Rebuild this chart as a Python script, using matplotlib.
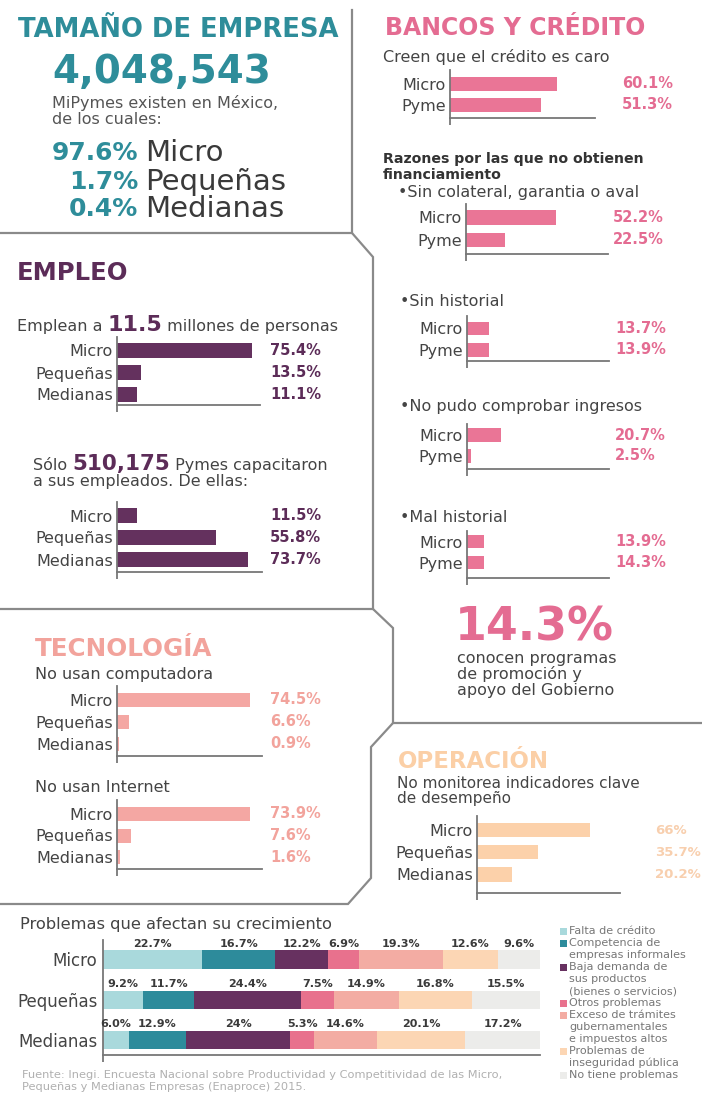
import matplotlib
matplotlib.use('Agg')
import matplotlib.pyplot as plt
from matplotlib.lines import Line2D
from matplotlib.patches import Rectangle
import numpy as np

W, H = 702, 1094
plt.rcParams['font.family'] = ['DejaVu Sans']

# ---------------- data ----------------
tam_total = "4,048,543"
tam_pct = ["97.6%", "1.7%", "0.4%"]
tam_cat = ["Micro", "Pequeñas", "Medianas"]

credito_cats = ["Micro", "Pyme"]
credito_caro = [60.1, 51.3]
sin_colateral = [52.2, 22.5]
sin_historial = [13.7, 13.9]
no_ingresos = [20.7, 2.5]
mal_historial = [13.9, 14.3]
conocen_programas = "14.3%"

size_cats = ["Micro", "Pequeñas", "Medianas"]
empleo_pct = [75.4, 13.5, 11.1]
capacitaron_pct = [11.5, 55.8, 73.7]
no_computadora = [74.5, 6.6, 0.9]
no_internet = [73.9, 7.6, 1.6]
no_monitorea = [66, 35.7, 20.2]

problem_names = ["Falta de crédito",
                 "Competencia de\nempresas informales",
                 "Baja demanda de\nsus productos\n(bienes o servicios)",
                 "Otros problemas",
                 "Exceso de trámites\ngubernamentales\ne impuestos altos",
                 "Problemas de\ninseguridad pública",
                 "No tiene problemas"]
prob_rows = ["Micro", "Pequeñas", "Medianas"]
prob_micro = [22.7, 16.7, 12.2, 6.9, 19.3, 12.6, 9.6]
prob_pequenas = [9.2, 11.7, 24.4, 7.5, 14.9, 16.8, 15.5]
prob_medianas = [6.0, 12.9, 24, 5.3, 14.6, 20.1, 17.2]
prob_colors = ["#a9d9dc", "#2d8b9b", "#673160", "#e8718d",
               "#f3aca3", "#fcd6b4", "#ececea"]

TEAL = "#2e8d9a"
PINK = "#e46c92"
PINK_BAR = "#ea7596"
PURPLE = "#5c2c58"
PURPLE_BAR = "#64315e"
SALMON = "#f2a39c"
SALMON_BAR = "#f4a7a3"
PEACH = "#fbcfa6"
PEACH_BAR = "#fcd1aa"
TXT = "#444444"
LINE = "#8a8a8a"
BODY = 11.5
CAT = 11.5
VAL = 10.5

fig = plt.figure(figsize=(W / 100, H / 100), dpi=100)
fig.patch.set_facecolor("white")
renderer = fig.canvas.get_renderer()


def fx(x):
    return x / W


def fy(y):
    return 1 - y / H


def text(x, y, s, **kw):
    kw.setdefault("va", "center")
    kw.setdefault("ha", "left")
    kw.setdefault("color", TXT)
    return fig.text(fx(x), fy(y), s, **kw)


def rich(x, y, parts):
    cx = x
    for s, kw in parts:
        t = fig.text(fx(cx), fy(y), s, va="baseline", ha="left", **kw)
        cx += t.get_window_extent(renderer=renderer).width


def poly(pts):
    xs = [fx(p[0]) for p in pts]
    ys = [fy(p[1]) for p in pts]
    fig.add_artist(Line2D(xs, ys, transform=fig.transFigure, color=LINE,
                          lw=1.6, solid_joinstyle="miter"))


# ---------------- divider lines ----------------
poly([(352, 10), (352, 233), (0, 233)])
poly([(352, 233), (373, 257), (373, 609), (0, 609)])
poly([(373, 609), (393, 628), (393, 723), (702, 723)])
poly([(393, 723), (371, 747), (371, 878), (348, 904), (0, 904)])


def hbar(top, left, right, axis_y, yc0, spacing, bar_h, xmax, cats, vals,
         color, val_x, val_color, cat_fs=CAT, val_fs=VAL):
    ax = fig.add_axes([fx(left), fy(axis_y), (right - left) / W,
                       (axis_y - top) / H])
    ypos = np.arange(len(vals))
    ax.barh(ypos, vals, height=bar_h / spacing, color=color)
    ax.set_xlim(0, xmax)
    ax.set_ylim((axis_y - yc0) / spacing, (top - yc0) / spacing)
    for s in ["top", "right"]:
        ax.spines[s].set_visible(False)
    for s in ["left", "bottom"]:
        ax.spines[s].set_color("#777777")
        ax.spines[s].set_linewidth(1.3)
    ax.set_xticks([0])
    ax.set_xticklabels([""])
    ax.tick_params(axis="x", length=5, width=1.3, color="#777777",
                   direction="out")
    ax.set_yticks(ypos)
    ax.set_yticklabels(cats, fontsize=cat_fs, color=TXT)
    ax.tick_params(axis="y", length=0, pad=3)
    ax.patch.set_alpha(0)
    xv = (val_x - left) / (right - left) * xmax
    for i, v in enumerate(vals):
        ax.text(xv, i, f"{v}%", ha="left", va="center", fontsize=val_fs,
                fontweight="bold", color=val_color, clip_on=False)
    return ax


# ---------------- TAMAÑO DE EMPRESA ----------------
text(18, 30, "TAMAÑO DE EMPRESA", fontsize=18.6, fontweight="bold", color=TEAL)
text(52, 72, tam_total, fontsize=28, fontweight="bold", color=TEAL)
text(52, 103, "MiPymes existen en México,", fontsize=BODY, color="#555555")
text(52, 120, "de los cuales:", fontsize=BODY, color="#555555")
for p, c, y in zip(tam_pct, tam_cat, [153, 182, 209]):
    text(138, y, p, fontsize=18, fontweight="bold", color=TEAL, ha="right")
    text(145, y, c, fontsize=21, color="#3a3a3a")

# ---------------- BANCOS Y CRÉDITO ----------------
text(385, 28, "BANCOS Y CRÉDITO", fontsize=17, fontweight="bold", color=PINK)
text(383, 57, "Creen que el crédito es caro", fontsize=BODY)
hbar(70, 450, 595, 118, 83.5, 21, 14, 81.4, credito_cats, credito_caro,
     PINK_BAR, 622, PINK)

text(383, 159, "Razones por las que no obtienen", fontsize=10.2,
     fontweight="bold", color="#333333")
text(383, 175, "financiamiento", fontsize=10.2, fontweight="bold",
     color="#333333")
text(398, 193, "•Sin colateral, garantia o aval", fontsize=BODY)
hbar(204, 466, 608, 254, 217.5, 22.5, 14.5, 82.4, credito_cats,
     sin_colateral, PINK_BAR, 613, PINK)

text(400, 302, "•Sin historial", fontsize=BODY)
hbar(316, 467, 609, 361, 328.5, 21.5, 13.5, 88, credito_cats,
     sin_historial, PINK_BAR, 615, PINK)

text(400, 407, "•No pudo comprobar ingresos", fontsize=BODY)
hbar(424, 467, 609, 469, 435, 21, 14, 86.5, credito_cats, no_ingresos,
     PINK_BAR, 615, PINK)

text(400, 517, "•Mal historial", fontsize=BODY)
hbar(531, 467, 609, 578, 541.5, 21, 13.5, 118, credito_cats,
     mal_historial, PINK_BAR, 615, PINK)

text(455, 628, conocen_programas, fontsize=33, fontweight="bold", color=PINK)
text(457, 658, "conocen programas", fontsize=BODY)
text(457, 674, "de promoción y", fontsize=BODY)
text(457, 690, "apoyo del Gobierno", fontsize=BODY)

# ---------------- EMPLEO ----------------
text(17, 273, "EMPLEO", fontsize=17.5, fontweight="bold", color=PURPLE)
rich(17, 331, [("Emplean a ", dict(fontsize=BODY, color=TXT)),
               ("11.5", dict(fontsize=16, fontweight="bold", color=PURPLE)),
               (" millones de personas", dict(fontsize=BODY, color=TXT))])
hbar(337, 117, 260, 405, 350.5, 22, 15, 79.9, size_cats, empleo_pct,
     PURPLE_BAR, 270, PURPLE)

rich(33, 470, [("Sólo ", dict(fontsize=BODY, color=TXT)),
               ("510,175", dict(fontsize=15.5, fontweight="bold",
                                color=PURPLE)),
               (" Pymes capacitaron", dict(fontsize=BODY, color=TXT))])
rich(33, 486, [("a sus empleados. De ellas:", dict(fontsize=BODY,
                                                    color=TXT))])
hbar(502, 117, 262, 572, 515.5, 22, 15, 81.6, size_cats, capacitaron_pct,
     PURPLE_BAR, 270, PURPLE)

# ---------------- TECNOLOGÍA ----------------
text(35, 649, "TECNOLOGÍA", fontsize=17.7, fontweight="bold", color=SALMON)
text(35, 674, "No usan computadora", fontsize=BODY)
hbar(686, 117, 262, 756, 700, 22, 13.5, 81.2, size_cats, no_computadora,
     SALMON_BAR, 270, SALMON)
text(35, 788, "No usan Internet", fontsize=BODY)
hbar(800, 117, 262, 869, 814, 21.5, 14, 80.6, size_cats, no_internet,
     SALMON_BAR, 270, SALMON)

# ---------------- OPERACIÓN ----------------
text(398, 762, "OPERACIÓN", fontsize=16.5, fontweight="bold", color=PEACH)
text(397, 784, "No monitorea indicadores clave", fontsize=11)
text(397, 799, "de desempeño", fontsize=11)
hbar(816, 477, 620, 893, 830, 22.2, 14.5, 83.5, size_cats, no_monitorea,
     PEACH_BAR, 655, "#f8cfae", val_fs=9.5)

# ---------------- Problemas (stacked) ----------------
text(20, 924, "Problemas que afectan su crecimiento", fontsize=11.7)
top, left, right, axis_y = 940, 103, 540, 1055
yc0, spacing, bar_h = 959.5, 40.3, 18.5
ax = fig.add_axes([fx(left), fy(axis_y), (right - left) / W,
                   (axis_y - top) / H])
rows = [prob_micro, prob_pequenas, prob_medianas]
ypos = np.arange(len(rows))
bh = bar_h / spacing
cum = np.zeros(len(rows))
for j in range(len(problem_names)):
    vals = np.array([r[j] for r in rows], dtype=float)
    ax.barh(ypos, vals, left=cum, height=bh, color=prob_colors[j])
    for i in range(len(rows)):
        ax.text(cum[i] + vals[i] / 2, i - bh / 2 - 0.04, f"{rows[i][j]}%",
                ha="center", va="bottom", fontsize=8, fontweight="bold",
                color="#3a3a3a", clip_on=False)
    cum += vals
ax.set_xlim(0, 100)
ax.set_ylim((axis_y - yc0) / spacing, (top - yc0) / spacing)
for s in ["top", "right"]:
    ax.spines[s].set_visible(False)
for s in ["left", "bottom"]:
    ax.spines[s].set_color("#777777")
    ax.spines[s].set_linewidth(1.3)
ax.set_xticks([0])
ax.set_xticklabels([""])
ax.tick_params(axis="x", length=5, width=1.3, color="#777777", direction="out")
ax.set_yticks(ypos)
ax.set_yticklabels(prob_rows, fontsize=12, color=TXT)
ax.tick_params(axis="y", length=0, pad=4)
ax.patch.set_alpha(0)

# legend
ly = 931
step = 12
for name, col in zip(problem_names, prob_colors):
    lines = name.split("\n")
    fig.add_artist(Rectangle((fx(560), fy(ly + 3.5)), 7 / W, 7 / H,
                             transform=fig.transFigure, color=col, lw=0))
    for k, ln in enumerate(lines):
        text(569, ly + k * step, ln, fontsize=8, color="#777777")
    ly += step * len(lines)

# footer
text(22, 1075, "Fuente: Inegi. Encuesta Nacional sobre Productividad y "
     "Competitividad de las Micro,", fontsize=8.2, color="#b0b0b0")
text(22, 1087, "Pequeñas y Medianas Empresas (Enaproce) 2015.", fontsize=8.2,
     color="#b0b0b0")

fig.savefig("out.png", dpi=100, facecolor="white")
